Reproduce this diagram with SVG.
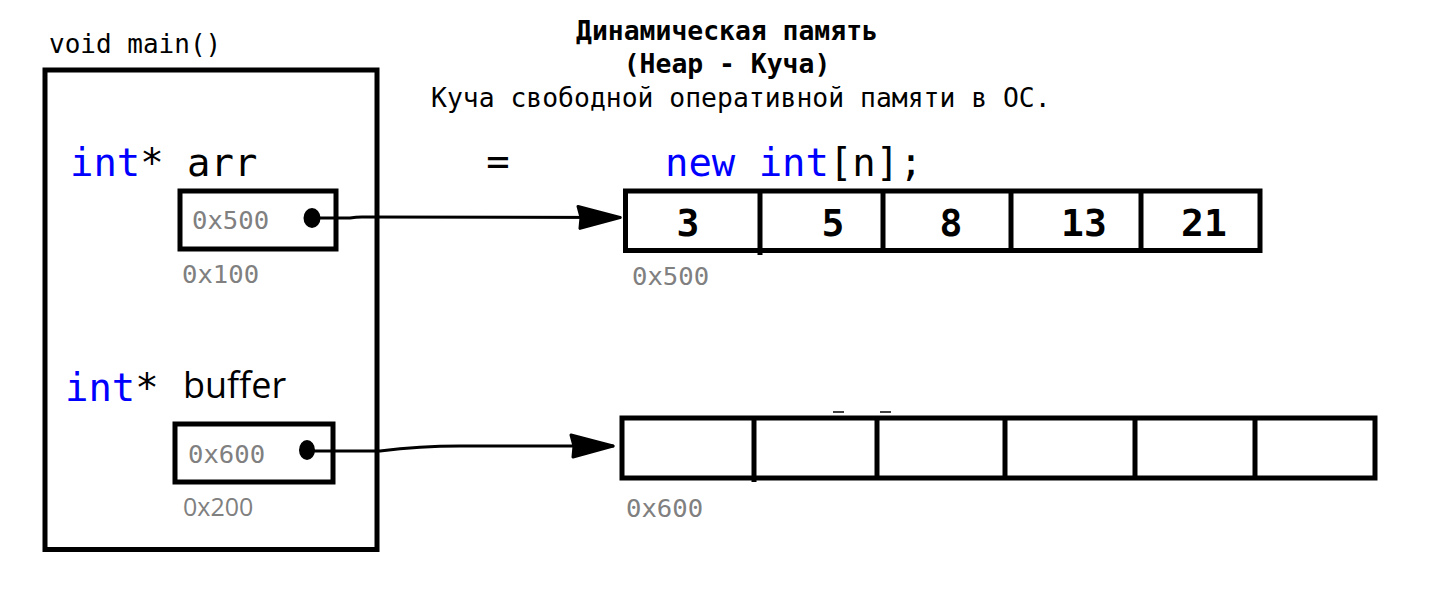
<svg xmlns="http://www.w3.org/2000/svg" width="1432" height="596" viewBox="0 0 1432 596">
  <style>
    .mono { font-family: "DejaVu Sans Mono", "Liberation Mono", monospace; }
    .sans { font-family: "Open Sans", "Noto Sans", sans-serif; }
    .kw { fill: #0000FF; }
    .addr { fill: #808080; font-size: 25.6px; }
    .box { fill: none; stroke: #000; stroke-width: 5; }
    .cell { fill: none; stroke: #000; stroke-width: 5; }
    .div { stroke: #000; stroke-width: 5; }
    .num { font-family: "DejaVu Sans Mono", "Liberation Mono", monospace; font-weight: bold; font-size: 38px; text-anchor: middle; fill: #000; }
    .conn { fill: none; stroke: #000; stroke-width: 3; stroke-linecap: round; stroke-linejoin: round; }
    .dot { fill: #000; }
  </style>
  <defs>
    <marker id="arrow" viewBox="0 0 46 26" refX="44" refY="13" markerWidth="46" markerHeight="26" markerUnits="userSpaceOnUse" orient="auto">
      <path d="M2,2 L44,13 L4,24 L5,13 Z" fill="#000" stroke="#000" stroke-width="3" stroke-linejoin="round"/>
    </marker>
  </defs>
  <rect width="1432" height="596" fill="#fff"/>

  <g id="title">
    <text class="mono" x="727" y="40" font-size="26.4" font-weight="bold" text-anchor="middle">Динамическая память</text>
    <text class="mono" x="727" y="73" font-size="26.4" font-weight="bold" text-anchor="middle">(Heap - Куча)</text>
    <text class="mono" x="431" y="107" font-size="26.4">Куча свободной оперативной памяти в ОС.</text>
  </g>

  <g id="main">
    <text class="mono" x="49" y="53" font-size="26">void main()</text>
    <rect class="box" x="45" y="70" width="332" height="479.5"/>
  </g>

  <g id="arr">
    <text class="mono" x="70" y="176" font-size="38.9"><tspan class="kw">int</tspan>* arr</text>
    <rect class="box" x="180" y="191" width="156" height="58"/>
    <text class="mono addr" x="192" y="229">0x500</text>
    <ellipse class="dot" cx="312" cy="218" rx="8.5" ry="10"/>
    <text class="mono addr" x="182" y="283">0x100</text>
  </g>

  <g id="buffer">
    <text class="mono" x="65" y="401" font-size="38.9"><tspan class="kw">int</tspan>*</text>
    <text class="sans" x="183" y="398" font-size="36">buffer</text>
    <rect class="box" x="175" y="424" width="158" height="58"/>
    <text class="mono addr" x="188" y="463">0x600</text>
    <ellipse class="dot" cx="307" cy="450" rx="8" ry="10"/>
    <text class="sans" x="183" y="516" font-size="25" fill="#808080">0x200</text>
  </g>

  <g id="expr">
    <text class="mono" x="498" y="175" font-size="38.9" text-anchor="middle">=</text>
    <text class="mono" x="665" y="176" font-size="38.9"><tspan class="kw">new int</tspan>[n];</text>
  </g>

  <g id="array1">
    <rect class="cell" x="625.5" y="191" width="634.5" height="59.5"/>
    <line class="div" x1="760" y1="191" x2="760" y2="255"/>
    <line class="div" x1="883" y1="191" x2="883" y2="250.5"/>
    <line class="div" x1="1011" y1="191" x2="1011" y2="250.5"/>
    <line class="div" x1="1141" y1="191" x2="1141" y2="250.5"/>
    <text class="num" x="688" y="236">3</text>
    <text class="num" x="833" y="236">5</text>
    <text class="num" x="951" y="236">8</text>
    <text class="num" x="1084" y="236">13</text>
    <text class="num" x="1204" y="236">21</text>
    <text class="mono addr" x="632" y="285">0x500</text>
  </g>

  <g id="array2">
    <rect class="cell" x="622" y="418" width="753" height="60"/>
    <line class="div" x1="754" y1="418" x2="754" y2="482"/>
    <line class="div" x1="877" y1="418" x2="877" y2="478"/>
    <line class="div" x1="1005" y1="418" x2="1005" y2="478"/>
    <line class="div" x1="1135" y1="418" x2="1135" y2="478"/>
    <line class="div" x1="1255" y1="418" x2="1255" y2="478"/>
    <line x1="833" y1="412" x2="844" y2="412" stroke="#000" stroke-width="1.5"/>
    <line x1="880" y1="412" x2="891" y2="412" stroke="#000" stroke-width="1.5"/>
    <text class="mono addr" x="626" y="517">0x600</text>
  </g>

  <g id="connectors">
    <path class="conn" d="M318,218 L350,218 Q356,217 362,217 L620,217.5" marker-end="url(#arrow)"/>
    <path class="conn" d="M313,451 L380,451 Q420,446 460,446 L613,446" marker-end="url(#arrow)"/>
  </g>
</svg>
